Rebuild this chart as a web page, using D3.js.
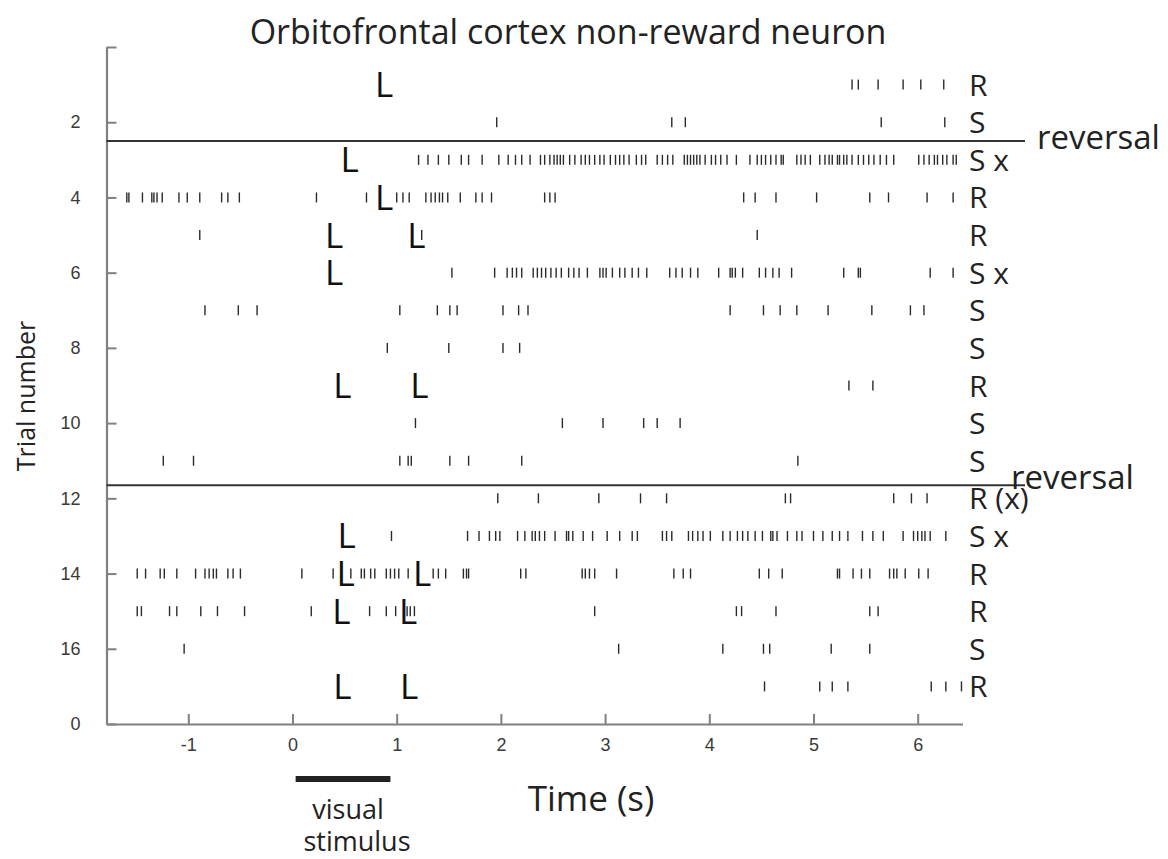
<!DOCTYPE html>
<html><head><meta charset="utf-8">
<script src="https://cdn.jsdelivr.net/npm/d3@7"></script>
<style>body{margin:0;background:#fff}</style>
</head><body>
<svg id="chart" width="1168" height="859"></svg>
<script>
const trialLabels = ["R","S","S x","R","R","S x","S","S","R","S","S","R (x)","S x","R","R","S","R"];
const spikes = [
  [5.37, 5.43, 5.62, 5.86, 6.03, 6.25],
  [1.96, 3.64, 3.77, 5.65, 6.26],
  [1.21, 1.30, 1.40, 1.50, 1.62, 1.69, 1.82, 1.98, 2.07, 2.14, 2.20, 2.28, 2.38, 2.42, 2.47, 2.51, 2.54, 2.57, 2.60, 2.66, 2.71, 2.77, 2.81, 2.85, 2.90, 2.95, 2.99, 3.05, 3.10, 3.14, 3.18, 3.23, 3.30, 3.35, 3.39, 3.50, 3.55, 3.60, 3.65, 3.76, 3.79, 3.82, 3.85, 3.88, 3.91, 3.96, 4.02, 4.06, 4.11, 4.17, 4.26, 4.39, 4.46, 4.50, 4.54, 4.59, 4.64, 4.69, 4.71, 4.84, 4.88, 4.92, 4.97, 5.06, 5.11, 5.15, 5.18, 5.23, 5.25, 5.29, 5.32, 5.37, 5.43, 5.48, 5.53, 5.58, 5.64, 5.70, 5.77, 6.01, 6.06, 6.11, 6.16, 6.19, 6.24, 6.28, 6.34, 6.37],
  [-1.59, -1.57, -1.44, -1.35, -1.33, -1.30, -1.25, -1.09, -1.01, -0.89, -0.68, -0.62, -0.51, 0.23, 0.71, 1.00, 1.06, 1.12, 1.28, 1.33, 1.37, 1.41, 1.44, 1.49, 1.61, 1.76, 1.82, 1.91, 2.42, 2.47, 2.52, 4.33, 4.44, 4.64, 5.03, 5.54, 5.72, 6.09, 6.34],
  [-0.89, 1.24, 4.46],
  [1.53, 1.94, 2.06, 2.11, 2.15, 2.20, 2.31, 2.35, 2.39, 2.43, 2.48, 2.53, 2.58, 2.65, 2.70, 2.75, 2.83, 2.95, 2.98, 3.01, 3.07, 3.14, 3.19, 3.26, 3.32, 3.40, 3.62, 3.68, 3.74, 3.82, 3.89, 4.09, 4.20, 4.22, 4.25, 4.32, 4.48, 4.54, 4.61, 4.67, 4.79, 5.29, 5.43, 5.45, 6.12, 6.34],
  [-0.84, -0.52, -0.34, 1.03, 1.39, 1.51, 1.58, 2.02, 2.17, 2.26, 4.20, 4.52, 4.68, 4.84, 5.14, 5.56, 5.93, 6.06],
  [0.91, 1.50, 2.02, 2.18],
  [5.34, 5.57],
  [1.18, 2.59, 2.98, 3.37, 3.50, 3.72],
  [-1.24, -0.95, 1.03, 1.11, 1.14, 1.51, 1.69, 2.20, 4.85],
  [1.97, 2.36, 2.94, 3.34, 3.59, 4.73, 4.78, 5.77, 5.94, 6.09],
  [0.95, 1.68, 1.79, 1.89, 1.95, 1.99, 2.16, 2.23, 2.30, 2.33, 2.37, 2.42, 2.52, 2.63, 2.65, 2.69, 2.79, 2.88, 3.02, 3.14, 3.26, 3.31, 3.55, 3.59, 3.64, 3.80, 3.84, 3.89, 3.94, 4.01, 4.13, 4.20, 4.27, 4.32, 4.37, 4.44, 4.51, 4.59, 4.61, 4.65, 4.75, 4.84, 4.89, 5.00, 5.09, 5.18, 5.25, 5.33, 5.47, 5.57, 5.67, 5.86, 5.96, 6.00, 6.04, 6.07, 6.12, 6.27],
  [-1.49, -1.41, -1.27, -1.23, -1.11, -0.93, -0.84, -0.80, -0.76, -0.73, -0.62, -0.57, -0.50, 0.09, 0.39, 0.56, 0.66, 0.69, 0.75, 0.79, 0.90, 0.94, 0.98, 1.02, 1.11, 1.35, 1.40, 1.47, 1.64, 1.67, 1.69, 2.19, 2.24, 2.78, 2.81, 2.85, 2.90, 3.11, 3.66, 3.75, 3.82, 4.48, 4.57, 4.70, 5.23, 5.25, 5.38, 5.46, 5.54, 5.73, 5.77, 5.80, 5.88, 6.01, 6.10],
  [-1.49, -1.45, -1.18, -1.11, -0.88, -0.72, -0.46, 0.18, 0.74, 0.90, 0.99, 1.10, 1.13, 1.17, 2.90, 4.26, 4.31, 4.64, 5.54, 5.62],
  [-1.04, 3.13, 4.13, 4.52, 4.58, 5.17, 5.54],
  [4.53, 5.06, 5.18, 5.33, 6.13, 6.27, 6.42]
];
const licks = [[0.82],[],[0.49],[0.82],[0.34,1.13],[0.34],[],[],[0.42,1.16],[],[],[],[0.46],[0.45,1.185],[0.41,1.05],[],[0.42,1.06]];
const reversals = [2.5, 11.65];
const xTicks = [-1,0,1,2,3,4,5,6];
const xTickLabels = ["-1","0","1","2","3","4","5","6"];
const yTicks = [0,2,4,6,8,10,12,14,16,18];
const yTickLabels = ["","2","4","6","8","10","12","14","16","0"];
const stimulus = [0.03, 0.94];

const svg = d3.select("#chart");
const x = d3.scaleLinear().domain([-1.785, 6.43]).range([106.5, 962.5]);
const y = d3.scaleLinear().domain([0, 18]).range([47, 724]);
const sans = "'Open Sans', sans-serif";

// axes
const gx = svg.append("g").attr("transform", `translate(0,${y(18)})`)
  .call(d3.axisBottom(x).tickValues(xTicks).tickSize(-10).tickSizeOuter(0).tickPadding(14)
    .tickFormat((d,i) => xTickLabels[i]));
const gy = svg.append("g").attr("transform", `translate(${x.range()[0]},0)`)
  .call(d3.axisLeft(y).tickValues(yTicks).tickSize(-10).tickSizeOuter(0).tickPadding(26)
    .tickFormat((d,i) => yTickLabels[i]));
[gx, gy].forEach(g => {
  g.select(".domain").attr("stroke", "#808080").attr("stroke-width", 2.2);
  g.selectAll(".tick line").attr("stroke", "#808080").attr("stroke-width", 2);
  g.selectAll(".tick text").attr("fill", "#3a3a3a").style("font-family", "'Liberation Sans', Arial, sans-serif").style("font-size", "18px");
});

// spikes
spikes.forEach((arr, i) => {
  const trial = i + 1;
  svg.append("g").selectAll("line").data(arr).join("line")
    .attr("x1", d => x(d)).attr("x2", d => x(d))
    .attr("y1", y(trial) - 5).attr("y2", y(trial) + 5)
    .attr("stroke", "#2a2a2a").attr("stroke-width", 1.4);
});

// licks
const lFont = 35;
licks.forEach((arr, i) => {
  const trial = i + 1;
  svg.append("g").selectAll("text").data(arr).join("text")
    .attr("x", d => x(d) - 3).attr("y", y(trial) + lFont * 0.357)
    .style("font-family", sans).style("font-size", lFont + "px").attr("fill", "#111")
    .text("L");
});

// reversal lines
svg.append("g").selectAll("line").data(reversals).join("line")
  .attr("x1", x.range()[0]).attr("x2", 1025)
  .attr("y1", d => y(d)).attr("y2", d => y(d))
  .attr("stroke", "#333").attr("stroke-width", 2);
svg.append("g").selectAll("text").data(reversals).join("text")
  .attr("x", (d,i) => i === 0 ? 1037 : 1011)
  .attr("y", (d,i) => y(d) + (i === 0 ? 8 : 4))
  .style("font-family", sans).style("font-size", "33px").attr("fill", "#222")
  .text("reversal");

// trial outcome labels
svg.append("g").selectAll("text").data(trialLabels).join("text")
  .attr("x", 969).attr("y", (d,i) => y(i + 1) + 11)
  .style("font-family", sans).style("font-size", "30px").attr("fill", "#222")
  .text(d => d);

// title and axis labels
svg.append("text").attr("x", 568).attr("y", 44).attr("text-anchor", "middle")
  .style("font-family", sans).style("font-size", "34px").attr("fill", "#222")
  .text("Orbitofrontal cortex non-reward neuron");
svg.append("text").attr("transform", "translate(35,396) rotate(-90)").attr("text-anchor", "middle")
  .style("font-family", sans).style("font-size", "25px").attr("fill", "#222")
  .text("Trial number");
svg.append("text").attr("x", 591).attr("y", 811).attr("text-anchor", "middle")
  .style("font-family", sans).style("font-size", "35px").attr("fill", "#222")
  .text("Time (s)");

// stimulus bar
svg.append("line").attr("x1", x(stimulus[0])).attr("x2", x(stimulus[1]))
  .attr("y1", 779).attr("y2", 779).attr("stroke", "#222").attr("stroke-width", 6);
svg.append("text").attr("x", 348).attr("y", 819).attr("text-anchor", "middle")
  .style("font-family", sans).style("font-size", "27px").attr("fill", "#222").text("visual");
svg.append("text").attr("x", 357).attr("y", 851).attr("text-anchor", "middle")
  .style("font-family", sans).style("font-size", "27px").attr("fill", "#222").text("stimulus");
</script>
</body></html>
